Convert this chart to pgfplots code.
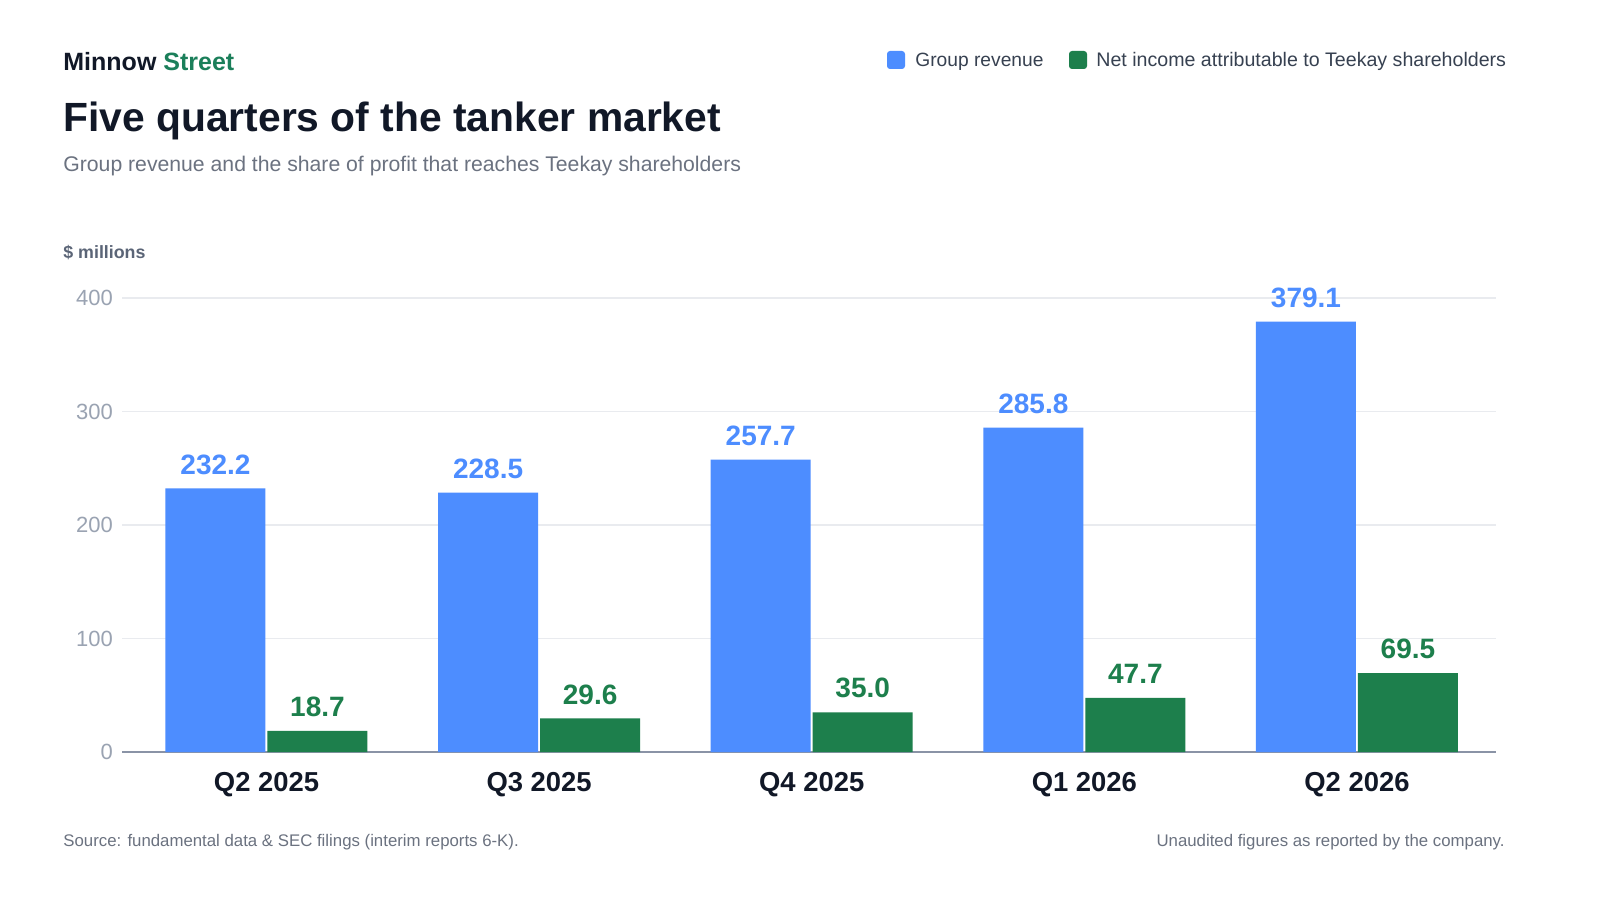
\documentclass[border=0pt]{standalone}
\usepackage{pgfplots}
\pgfplotsset{compat=1.18}
\usepackage{fontspec}
\setmainfont{Liberation Sans}
\definecolor{cblue}{HTML}{4D8DFF}
\definecolor{cgreen}{HTML}{1D7F4C}
\definecolor{brandgreen}{HTML}{1B7F5A}
\definecolor{ink}{HTML}{111827}
\definecolor{sub}{HTML}{6B7280}
\definecolor{legtxt}{HTML}{374151}
\definecolor{ticktxt}{HTML}{9AA3B2}
\definecolor{unit}{HTML}{5B6577}
\definecolor{gridc}{HTML}{E9EBEF}
\definecolor{basec}{HTML}{8A93A6}
\begin{document}
\begin{tikzpicture}[x=1pt,y=1pt]
\fill[white] (0,0) rectangle (800,450);
\begin{axis}[
  at={(61pt,74pt)}, anchor=south west,
  scale only axis, width=687pt, height=227pt,
  xmin=-0.53, xmax=4.51, ymin=0, ymax=400,
  clip=false,
  axis x line*=bottom, axis y line*=left,
  x axis line style={-, draw=basec, line width=1pt},
  y axis line style={draw=none},
  major tick length=0pt,
  xtick={0,1,2,3,4},
  xticklabels={Q2 2025,Q3 2025,Q4 2025,Q1 2026,Q2 2026},
  xticklabel style={font=\fontsize{13.7}{16}\selectfont\bfseries, text=ink, yshift=-6.5pt},
  ytick={0,100,200,300,400},
  yticklabel style={font=\fontsize{11}{13}\selectfont, text=ticktxt, xshift=-1pt},
  /pgf/number format/assume math mode=true,
  ymajorgrids, grid style={draw=gridc, line width=0.8pt},
  ybar, bar width=50pt,
  nodes near coords,
  nodes near coords style={/pgf/number format/fixed, /pgf/number format/precision=1, /pgf/number format/fixed zerofill, /pgf/number format/assume math mode=true},
]
\addplot[fill=cblue, draw=none, bar shift=-25.5pt,
  nodes near coords style={font=\fontsize{14}{16}\selectfont\bfseries, text=cblue, yshift=3.5pt}]
  coordinates {(0,232.2) (1,228.5) (2,257.7) (3,285.8) (4,379.1)};
\addplot[fill=cgreen, draw=none, bar shift=25.5pt,
  nodes near coords style={font=\fontsize{14}{16}\selectfont\bfseries, text=cgreen, yshift=3.5pt}]
  coordinates {(0,18.7) (1,29.6) (2,35.0) (3,47.7) (4,69.5)};
\end{axis}
% header
\node[anchor=base west, inner sep=0, font=\fontsize{12.5}{15}\selectfont\bfseries] at (31.5,414.5) {\textcolor{ink}{Minnow} \textcolor{brandgreen}{Street}};
\node[anchor=base west, inner sep=0, font=\fontsize{20.4}{24}\selectfont\bfseries, text=ink] at (31.5,384) {Five quarters of the tanker market};
\node[anchor=base west, inner sep=0, font=\fontsize{10.6}{13}\selectfont, text=sub] at (31.5,364) {Group revenue and the share of profit that reaches Teekay shareholders};
\node[anchor=base west, inner sep=0, font=\fontsize{8.9}{11}\selectfont\bfseries, text=unit] at (31.5,320.5) {\$ millions};
% legend
\fill[cblue, rounded corners=1.5pt] (443.5,415.5) rectangle (452.5,424.5);
\node[anchor=base west, inner sep=0, font=\fontsize{9.6}{12}\selectfont, text=legtxt] at (457.5,416.5) {Group revenue};
\fill[cgreen, rounded corners=1.5pt] (534.5,415.5) rectangle (543.5,424.5);
\node[anchor=base west, inner sep=0, font=\fontsize{9.8}{12}\selectfont, text=legtxt] at (548,416.5) {Net income attributable to Teekay shareholders};
% footer
\node[anchor=base west, inner sep=0, font=\fontsize{8.4}{10}\selectfont, text=sub] at (31.5,27) {Source: fundamental data \& SEC filings (interim reports 6-K).};
\node[anchor=base east, inner sep=0, font=\fontsize{8.4}{10}\selectfont, text=sub] at (752.5,27) {Unaudited figures as reported by the company.};
\pgfresetboundingbox
\path[use as bounding box] (0,0) rectangle (800,450);
\end{tikzpicture}
\end{document}
